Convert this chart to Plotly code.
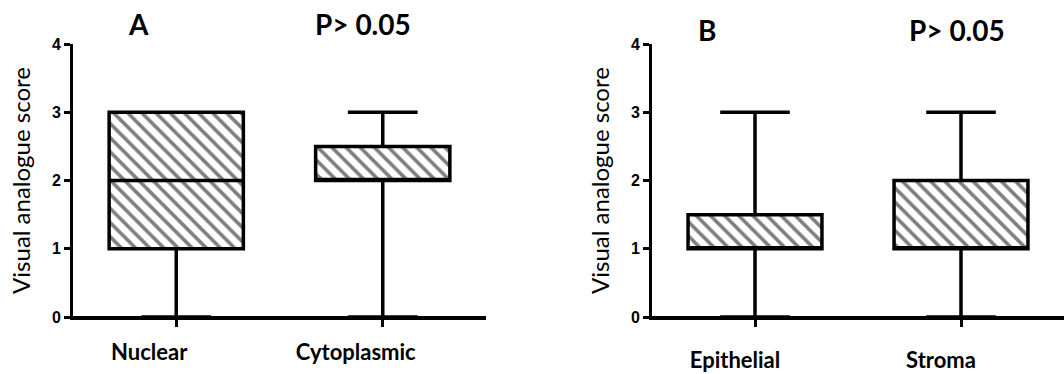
import plotly.graph_objects as go

# ---- data ----
categories_a = ["Nuclear", "Cytoplasmic"]
q1_a = [1, 2]
median_a = [2, 2]
q3_a = [3, 2.5]
lower_a = [0, 0]
upper_a = [3, 3]

categories_b = ["Epithelial", "Stroma"]
q1_b = [1, 1]
median_b = [1, 1]
q3_b = [1.5, 2]
lower_b = [0, 0]
upper_b = [3, 3]

panel_labels = ["A", "B"]
p_texts = ["P> 0.05", "P> 0.05"]
y_ticks = [0, 1, 2, 3, 4]

BOX_W = 0.65
fig = go.Figure()

def add_panel(cats, q1, med, q3, lo, hi, xa, ya):
    # hatched fill between q1 and q3
    fig.add_trace(go.Bar(
        x=cats, y=[b - a for a, b in zip(q1, q3)], base=q1,
        width=BOX_W, xaxis=xa, yaxis=ya, showlegend=False, hoverinfo="skip",
        marker=dict(color="white", line=dict(width=0),
                    pattern=dict(shape="\\", fgcolor="black", bgcolor="white",
                                 size=10, solidity=0.36)),
    ))
    fig.add_trace(go.Box(
        x=cats, q1=q1, median=med, q3=q3, lowerfence=lo, upperfence=hi,
        width=BOX_W, whiskerwidth=0.52, boxpoints=False,
        fillcolor="rgba(0,0,0,0)", line=dict(color="black", width=3.5),
        xaxis=xa, yaxis=ya, showlegend=False,
    ))

add_panel(categories_a, q1_a, median_a, q3_a, lower_a, upper_a, "x", "y")
add_panel(categories_b, q1_b, median_b, q3_b, lower_b, upper_b, "x2", "y2")

ydom = [57 / 374, 330 / 374]
xcommon = dict(range=[-0.5, 1.5], showline=True, linecolor="black", linewidth=3,
               ticks="outside", ticklen=7, tickwidth=3, tickcolor="black",
               showgrid=False, zeroline=False, automargin=False,
               tickfont=dict(family="Lato", size=22, color="black", weight="bold"))
ycommon = dict(range=[0, 4], tickvals=y_ticks, showline=True, linecolor="black",
               linewidth=3, ticks="outside", ticklen=6, tickwidth=3, tickcolor="black",
               showgrid=False, zeroline=True, zerolinecolor="black", zerolinewidth=3,
               domain=ydom, automargin=False,
               tickfont=dict(family="Liberation Sans", size=16, color="black", weight="bold"),
               title=dict(text="Visual analogue score", standoff=15,
                          font=dict(family="Lato", size=24, color="black")))

fig.update_layout(
    width=1064, height=374, margin=dict(l=0, r=0, t=0, b=0),
    paper_bgcolor="white", plot_bgcolor="white", barmode="overlay",
    xaxis=dict(domain=[73 / 1064, 486 / 1064], anchor="y", ticklabelshift=-27,
               ticklabelstandoff=7, **xcommon),
    yaxis=dict(anchor="x", **ycommon),
    xaxis2=dict(domain=[652 / 1064, 1.0], anchor="y2", ticklabelshift=-20,
                ticklabelstandoff=15, **xcommon),
    yaxis2=dict(anchor="x2", **ycommon),
)

anns = [
    (panel_labels[0], 138, 24), (p_texts[0], 363, 24),
    (panel_labels[1], 707, 30), (p_texts[1], 957, 30),
]
for txt, px, py in anns:
    fig.add_annotation(text=txt, x=px / 1064, y=1 - py / 374, xref="paper", yref="paper",
                       showarrow=False, xanchor="center", yanchor="middle",
                       font=dict(family="Lato", size=28, color="black", weight="bold"))

fig.write_html("out.html", config={"displayModeBar": False},
               post_script="document.body.style.margin='0';document.body.style.overflow='hidden';")
